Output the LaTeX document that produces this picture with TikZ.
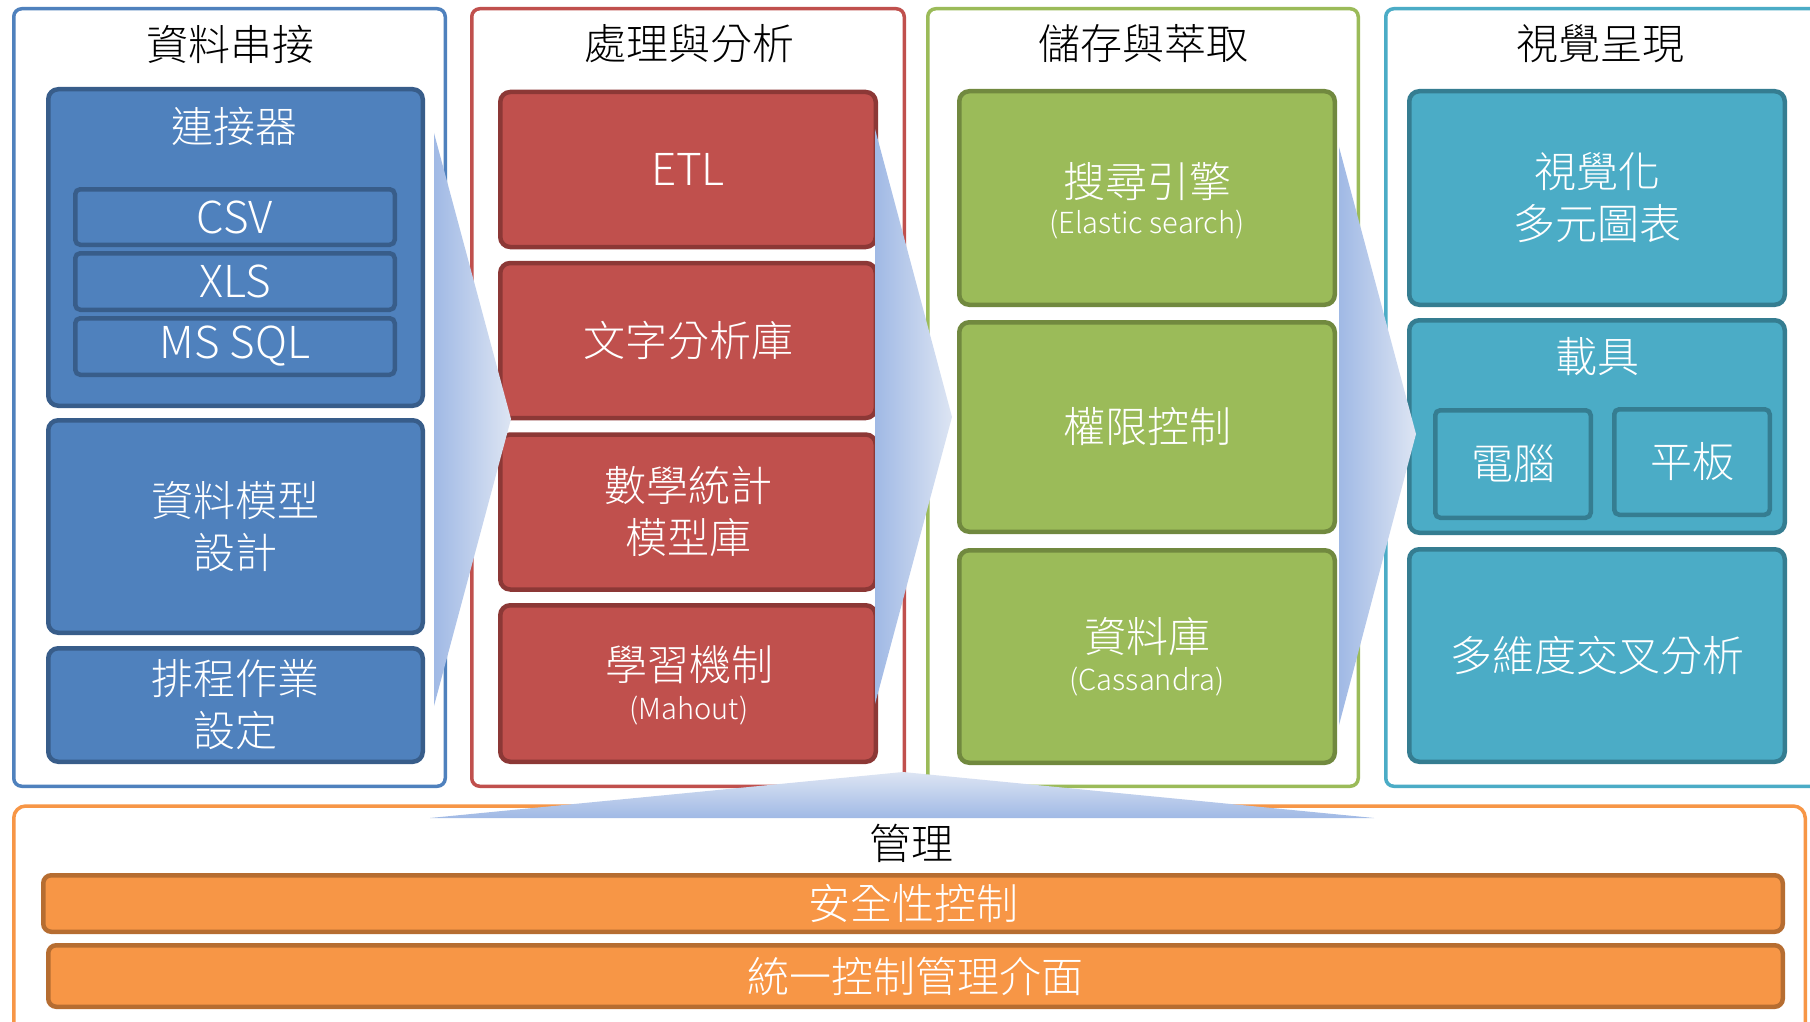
\documentclass[tikz,border=0pt]{standalone}
\usepackage{fontspec}
\IfFontExistsTF{Noto Sans CJK TC Light}{\setmainfont{Noto Sans CJK TC Light}}{\setmainfont{Noto Sans CJK TC}}
\definecolor{bluef}{HTML}{4F81BD}
\definecolor{blued}{HTML}{385D8A}
\definecolor{redf}{HTML}{C0504D}
\definecolor{redd}{HTML}{8C3836}
\definecolor{greenf}{HTML}{9BBB59}
\definecolor{greend}{HTML}{71893F}
\definecolor{tealf}{HTML}{4BACC6}
\definecolor{teald}{HTML}{357D91}
\definecolor{orangef}{HTML}{F79646}
\definecolor{oranged}{HTML}{B66D31}
\definecolor{chevL}{HTML}{A0B9E5}
\definecolor{chevR}{HTML}{DDE5F3}
\newcommand\szBig{\fontsize{42}{52}\selectfont}
\newcommand\szLat{\fontsize{44}{52}\selectfont}
\newcommand\szSmall{\fontsize{29}{34}\selectfont}
\tikzset{
  colbox/.style={draw=#1, line width=3.5pt, fill=white, rounded corners=8pt, inner sep=0pt},
  inbox/.style n args={2}{draw=#2, fill=#1, line width=4.5pt, rounded corners=10pt, inner sep=0pt, text=white, font=\szBig, align=center},
  subbox/.style n args={2}{draw=#2, fill=#1, line width=4.5pt, rounded corners=5pt, inner sep=0pt, text=white, align=center},
  ttl/.style={text=black, font=\szBig, inner sep=0pt},
  wtxt/.style={text=white, inner sep=0pt, align=center},
}
\begin{document}
\begin{tikzpicture}[x=1pt,y=-1pt]
\useasboundingbox (0,0) rectangle (1810,1022);
\clip (0,0) rectangle (1810,1022);
\fill[white] (0,0) rectangle (1810,1022);

% column frames
\node[colbox=bluef,   minimum width=431.5pt, minimum height=777.5pt] (c1) at (229.5,397.5) {};
\node[colbox=redf,    minimum width=432.5pt, minimum height=777.5pt] (c2) at (688,397.5) {};
\node[colbox=greenf,  minimum width=430.5pt, minimum height=777.5pt] (c3) at (1143,397.5) {};
\node[colbox=tealf,   minimum width=452.5pt, minimum height=777.5pt] (c4) at (1612,397.5) {};

% titles
\node[ttl] (t1) at (230,44) {資料串接};
\node[ttl] (t2) at (689,44) {處理與分析};
\node[ttl] (t3) at (1143,44) {儲存與萃取};
\node[ttl] (t4) at (1600,44) {視覺呈現};

% column 1
\node[inbox={bluef}{blued}, minimum width=374.5pt, minimum height=316.5pt] (conn) at (235.5,247.5) {};
\node[wtxt, font=\szBig] (connt) at (234,126) {連接器};
\node[subbox={bluef}{blued}, minimum width=319.5pt, minimum height=55.5pt, font=\szLat] (csv) at (235,217) {CSV};
\node[subbox={bluef}{blued}, minimum width=319.5pt, minimum height=56.5pt, font=\szLat] (xls) at (235,281.5) {XLS};
\node[subbox={bluef}{blued}, minimum width=319.5pt, minimum height=56.5pt, font=\szLat] (sql) at (235,346.5) {MS SQL};
\node[inbox={bluef}{blued}, minimum width=374.5pt, minimum height=212.5pt] (model) at (235.5,526.5) {資料模型\\設計};
\node[inbox={bluef}{blued}, minimum width=374.5pt, minimum height=113.5pt] (sched) at (235.5,705) {排程作業\\設定};

% column 2
\node[inbox={redf}{redd}, minimum width=375.5pt, minimum height=155pt, font=\szLat] (etl) at (688,169.5) {ETL};
\node[inbox={redf}{redd}, minimum width=375.5pt, minimum height=155pt] (text) at (688,340.5) {文字分析庫};
\node[inbox={redf}{redd}, minimum width=375.5pt, minimum height=155pt] (math) at (688,512) {數學統計\\模型庫};
\node[inbox={redf}{redd}, minimum width=375.5pt, minimum height=156.5pt] (learn) at (688,683.5) {};
\node[wtxt, font=\szBig] (learnt) at (689,665) {學習機制};
\node[wtxt, font=\szSmall] (learns) at (689,711) {(Mahout)};

% column 3
\node[inbox={greenf}{greend}, minimum width=375.5pt, minimum height=213.5pt] (search) at (1147,198) {};
\node[wtxt, font=\szBig] (searcht) at (1147,181) {搜尋引擎};
\node[wtxt, font=\szSmall] (searchs) at (1147,225) {(Elastic search)};
\node[inbox={greenf}{greend}, minimum width=375.5pt, minimum height=209.5pt] (auth) at (1147,427) {權限控制};
\node[inbox={greenf}{greend}, minimum width=375.5pt, minimum height=212.5pt] (db) at (1147,656.5) {};
\node[wtxt, font=\szBig] (dbt) at (1147,637) {資料庫};
\node[wtxt, font=\szSmall] (dbs) at (1147,682) {(Cassandra)};

% column 4
\node[inbox={tealf}{teald}, minimum width=375.5pt, minimum height=213.5pt] (viz) at (1597,198) {視覺化\\多元圖表};
\node[inbox={tealf}{teald}, minimum width=375.5pt, minimum height=212.5pt] (carrier) at (1597,426.5) {};
\node[wtxt, font=\szBig] (carriert) at (1597,357) {載具};
\node[subbox={tealf}{teald}, minimum width=155.5pt, minimum height=107.5pt, font=\szBig] (pc) at (1513,464) {電腦};
\node[subbox={tealf}{teald}, minimum width=155.5pt, minimum height=105.5pt, font=\szBig] (tablet) at (1692,462) {平板};
\node[inbox={tealf}{teald}, minimum width=375.5pt, minimum height=212.5pt] (multi) at (1597,655.5) {多維度交叉分析};

% chevrons between columns
\coordinate (a1) at (434,133); \coordinate (a1t) at (511,419); \coordinate (a1b) at (434,706);
\coordinate (a2) at (875,129); \coordinate (a2t) at (952,417); \coordinate (a2b) at (875,704);
\coordinate (a3) at (1339,147); \coordinate (a3t) at (1416,434); \coordinate (a3b) at (1339,725);
\shade[left color=chevL, right color=chevR] (a1) -- (a1t) -- (a1b) -- cycle;
\shade[left color=chevL, right color=chevR] (a2) -- (a2t) -- (a2b) -- cycle;
\shade[left color=chevL, right color=chevR] (a3) -- (a3t) -- (a3b) -- cycle;

% management
\node[colbox=orangef, rounded corners=12pt, minimum width=1791.5pt, minimum height=252pt] (mgmt) at (909.5,932) {};
\node[ttl] (mgmtt) at (911,843) {管理};
\node[subbox={orangef}{oranged}, rounded corners=8pt, minimum width=1739.5pt, minimum height=56.5pt, font=\szBig] (sec) at (913,903.5) {安全性控制};
\node[subbox={orangef}{oranged}, rounded corners=8pt, minimum width=1734.5pt, minimum height=61.5pt, font=\szBig] (ui) at (915.5,976) {統一控制管理介面};

% upward wedge into management
\coordinate (m1) at (430,818); \coordinate (mt) at (903,772); \coordinate (m2) at (1374,818);
\shade[top color=chevR, bottom color=chevL] (m1) -- (mt) -- (m2) -- cycle;
\end{tikzpicture}
\end{document}
